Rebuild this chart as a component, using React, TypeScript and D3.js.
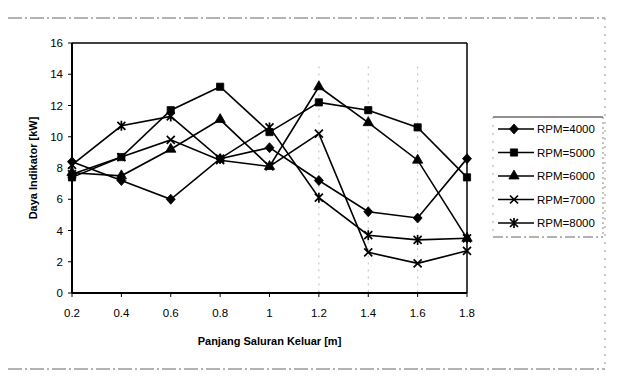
import * as d3 from "d3";

const W = 627;
const H = 379;

const xValues = [0.2, 0.4, 0.6, 0.8, 1, 1.2, 1.4, 1.6, 1.8];
const xTicks = ["0.2", "0.4", "0.6", "0.8", "1", "1.2", "1.4", "1.6", "1.8"];
const yTicks = [0, 2, 4, 6, 8, 10, 12, 14, 16];

const rpm4000 = [8.4, 7.2, 6.0, 8.6, 9.3, 7.2, 5.2, 4.8, 8.6];
const rpm5000 = [7.4, 8.7, 11.7, 13.2, 10.3, 12.2, 11.7, 10.6, 7.4];
const rpm6000 = [7.7, 7.5, 9.2, 11.1, 8.1, 13.2, 10.9, 8.5, 3.5];
const rpm7000 = [7.6, 8.7, 9.8, 8.5, 8.1, 10.2, 2.6, 1.9, 2.7];
const rpm8000 = [8.2, 10.7, 11.3, 8.6, 10.6, 6.1, 3.7, 3.4, 3.5];

const seriesNames = ["RPM=4000", "RPM=5000", "RPM=6000", "RPM=7000", "RPM=8000"];
const seriesValues = [rpm4000, rpm5000, rpm6000, rpm7000, rpm8000];
const markerKinds = ["diamond", "square", "triangle", "cross", "star"];

const margin = { left: 72, right: 160, top: 43, bottom: 86 };

function markerPath(kind: string) {
    if (kind === "diamond") return "M0,-5L4.5,0L0,5L-4.5,0Z";
    if (kind === "square") return d3.symbol(d3.symbolSquare, 52)() ?? "";
    if (kind === "triangle") return d3.symbol(d3.symbolTriangle, 46)() ?? "";
    if (kind === "cross") return "M-4,-4L4,4M-4,4L4,-4";
    return "M-4,-4L4,4M-4,4L4,-4M0,-5L0,5";
}

function Marker({ kind, x, y }: { kind: string; x: number; y: number }) {
    const line = kind === "cross" || kind === "star";
    return (
        <path
            d={markerPath(kind)}
            transform={`translate(${x},${y})`}
            fill={line ? "none" : "#000"}
            stroke="#000"
            strokeWidth={line ? 1.7 : 0.8}
        />
    );
}

export default function App() {
    const x = d3.scaleLinear().domain([0.2, 1.8]).range([margin.left, W - margin.right]);
    const y = d3.scaleLinear().domain([0, 16]).range([H - margin.bottom, margin.top]);
    const line = d3
        .line<number>()
        .x((_, i) => x(xValues[i]))
        .y((d) => y(d));

    const [x0, x1] = x.range();
    const [y0, y1] = y.range();
    const font = "'Liberation Sans', Arial, sans-serif";
    const legendX = 493;
    const legendY = 117;
    const legendW = 110;
    const legendH = 120;
    const legendStep = 23.5;

    return (
        <div style={{ position: "absolute", left: 0, top: 0 }}>
            <svg width={W} height={H} style={{ display: "block", background: "#fff" }} fontFamily={font}>
                {/* outer chart border (faint, dashed as in the scan) */}
                <line x1={8} y1={18} x2={605} y2={18} stroke="#666" strokeWidth={1} strokeDasharray="14 3 2 3" />
                <line x1={8} y1={369} x2={605} y2={369} stroke="#666" strokeWidth={1} strokeDasharray="14 3 2 3" />
                <line x1={605} y1={18} x2={605} y2={369} stroke="#999" strokeWidth={1} strokeDasharray="2 6" />

                {/* faint scan dots */}
                {[1.2, 1.4, 1.6].map((v) => (
                    <line key={v} x1={x(v)} x2={x(v)} y1={y(14.5)} y2={y0} stroke="#bbb" strokeWidth={1} strokeDasharray="2 5" />
                ))}

                {/* plot frame */}
                <line x1={x0} y1={y1} x2={x1} y2={y1} stroke="#000" strokeWidth={1.5} />
                <line x1={x1} y1={y1} x2={x1} y2={y0} stroke="#000" strokeWidth={1.5} />
                <line x1={x0} y1={y0} x2={x1} y2={y0} stroke="#000" strokeWidth={2} />
                <line x1={x0} y1={y0} x2={x0} y2={y1} stroke="#000" strokeWidth={2} />

                {/* y axis */}
                {yTicks.map((t) => (
                    <g key={t}>
                        <line x1={x0 - 4} x2={x0} y1={y(t)} y2={y(t)} stroke="#000" strokeWidth={1} />
                        <text x={x0 - 9} y={y(t)} dy="0.35em" textAnchor="end" fontSize={11.5} fill="#000">
                            {t}
                        </text>
                    </g>
                ))}
                {/* x axis */}
                {xValues.map((v, i) => (
                    <g key={v}>
                        <line x1={x(v)} x2={x(v)} y1={y0} y2={y0 + 4} stroke="#000" strokeWidth={1} />
                        <text x={x(v)} y={y0 + 24} textAnchor="middle" fontSize={11.5} fill="#000">
                            {xTicks[i]}
                        </text>
                    </g>
                ))}

                <text x={(x0 + x1) / 2} y={345} textAnchor="middle" fontSize={11} fontWeight="bold" fill="#000">
                    Panjang Saluran Keluar [m]
                </text>
                <text
                    transform={`translate(${33},${(y0 + y1) / 2}) rotate(-90)`}
                    textAnchor="middle"
                    dy="0.35em"
                    fontSize={11}
                    fontWeight="bold"
                    fill="#000"
                >
                    Daya Indikator [kW]
                </text>

                {/* series */}
                {seriesValues.map((vals, s) => (
                    <g key={seriesNames[s]}>
                        <path d={line(vals) ?? ""} fill="none" stroke="#000" strokeWidth={1.6} />
                        {vals.map((v, i) => (
                            <Marker key={i} kind={markerKinds[s]} x={x(xValues[i])} y={y(v)} />
                        ))}
                    </g>
                ))}

                {/* legend */}
                <rect x={legendX} y={legendY} width={legendW} height={legendH} fill="#fff" />
                <line x1={legendX} x2={legendX + legendW} y1={legendY} y2={legendY} stroke="#222" strokeWidth={1.2} />
                <line x1={legendX} x2={legendX + legendW} y1={legendY + legendH} y2={legendY + legendH} stroke="#666" strokeDasharray="10 3 2 3" />
                <line x1={legendX} x2={legendX} y1={legendY} y2={legendY + legendH} stroke="#aaa" strokeDasharray="2 6" />
                <line x1={legendX + legendW} x2={legendX + legendW} y1={legendY} y2={legendY + legendH} stroke="#888" strokeDasharray="2 3" />
                {seriesNames.map((name, s) => {
                    const ly = legendY + 12 + s * legendStep;
                    return (
                        <g key={name}>
                            <line x1={498} x2={534} y1={ly} y2={ly} stroke="#000" strokeWidth={1.6} />
                            <Marker kind={markerKinds[s]} x={514} y={ly} />
                            <text x={537} y={ly} dy="0.35em" fontSize={11.5} fill="#000">
                                {name}
                            </text>
                        </g>
                    );
                })}
            </svg>
        </div>
    );
}
